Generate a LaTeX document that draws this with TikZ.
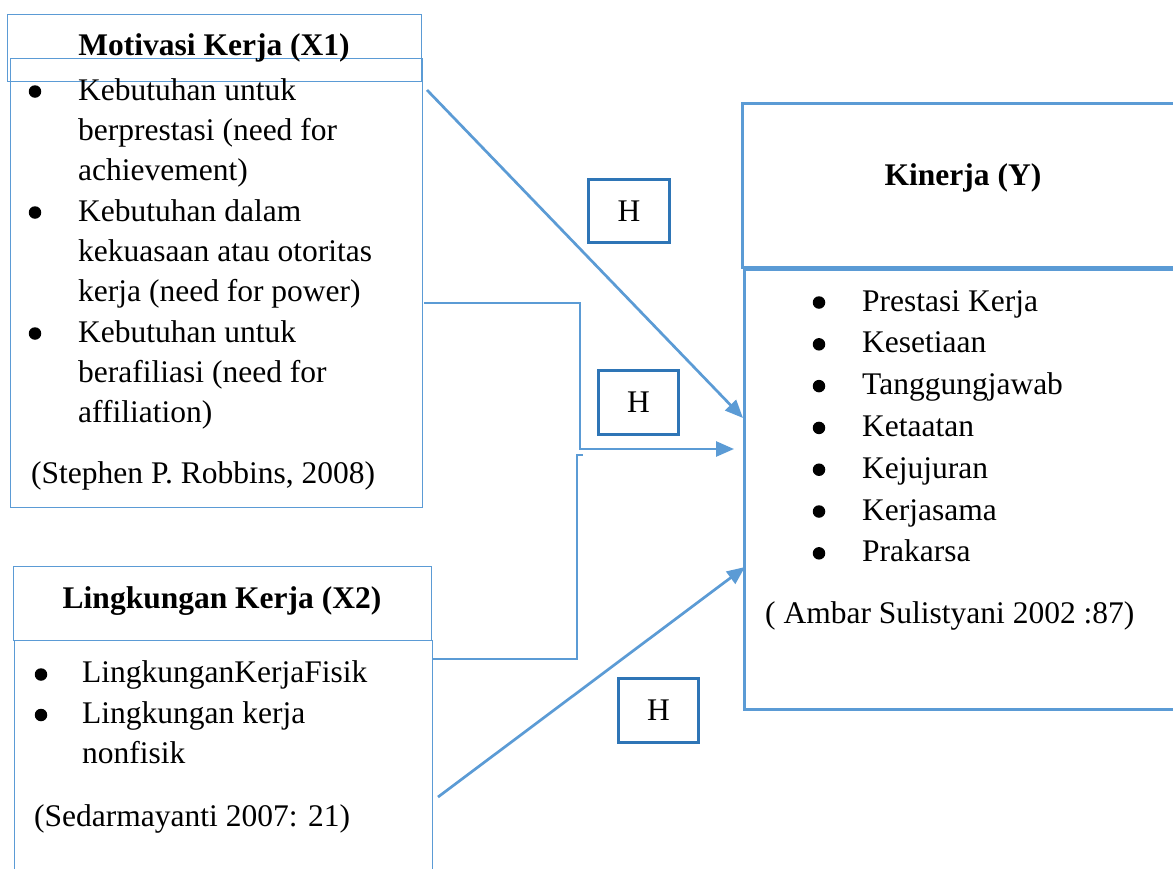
\documentclass[tikz,border=0pt]{standalone}
\usepackage{fontspec}
\setmainfont{Liberation Serif}
\usetikzlibrary{arrows.meta}
\definecolor{lnblue}{HTML}{5B9BD5}
\definecolor{hblue}{HTML}{2E75B6}
\tikzset{
  txt/.style={anchor=base west, inner sep=0pt, font=\fontsize{31.5}{40}\selectfont},
  blt/.style={circle, fill=black, inner sep=0pt, minimum size=12.5pt},
  boldtxt/.style={anchor=base, inner sep=0pt, font=\fontsize{31.5}{40}\selectfont\bfseries},
  frame/.style={draw=lnblue, line width=1.4pt, anchor=north west, inner sep=0pt},
  yframe/.style={draw=lnblue, line width=3pt, anchor=north west, inner sep=0pt},
  hbox/.style={draw=hblue, line width=2.8pt, anchor=north west, inner sep=0pt,
    font=\fontsize{31.5}{40}\selectfont},
  conn/.style={draw=lnblue, line width=2.7pt},
  thinconn/.style={draw=lnblue, line width=1.6pt},
  arr/.style={conn, -{Triangle[length=18pt,width=15pt]}},
}
\begin{document}
\begin{tikzpicture}[x=1pt,y=-1pt]
\clip (0,0) rectangle (1173,868);
\fill[white] (0,0) rectangle (1173,868);

% boxes
\node[frame, minimum width=414pt, minimum height=67pt] (x1head) at (7,14) {};
\node[frame, minimum width=412pt, minimum height=449pt] (x1body) at (10,58) {};
\node[frame, minimum width=418pt, minimum height=74pt] (x2head) at (13,566) {};
\node[frame, minimum width=418pt, minimum height=260pt] (x2body) at (14,640) {};
\node[yframe, minimum width=444pt, minimum height=164pt] (yhead) at (741,102) {};
\node[yframe, minimum width=442pt, minimum height=440pt] (ybody) at (743,268) {};

% H boxes
\node[hbox, minimum width=81pt, minimum height=63pt] (h1) at (587,178) {H};
\node[hbox, minimum width=80pt, minimum height=64pt] (h2) at (597,369) {H};
\node[hbox, minimum width=80pt, minimum height=64pt] (h3) at (617,677) {H};

% X1 texts
\node[boldtxt] (x1title) at (214,55) {Motivasi Kerja (X1)};
\node[blt] (x1b1) at (35,91.5) {};
\node[blt] (x1b2) at (35,212.5) {};
\node[blt] (x1b3) at (35,333.5) {};
\node[txt] (x1l1) at (78,100) {Kebutuhan untuk};
\node[txt] (x1l2) at (78,140.3) {berprestasi (need for};
\node[txt] (x1l3) at (78,180.6) {achievement)};
\node[txt] (x1l4) at (78,221) {Kebutuhan dalam};
\node[txt] (x1l5) at (78,261) {kekuasaan atau otoritas};
\node[txt] (x1l6) at (78,301.5) {kerja (need for power)};
\node[txt] (x1l7) at (78,342) {Kebutuhan untuk};
\node[txt] (x1l8) at (78,382) {berafiliasi (need for};
\node[txt] (x1l9) at (78,422.5) {affiliation)};
\node[txt] (x1cite) at (31,483) {(Stephen P. Robbins, 2008)};

% Y texts
\node[boldtxt] (ytitle) at (963,185) {Kinerja (Y)};
\foreach \t [count=\i] in {Prestasi Kerja,Kesetiaan,Tanggungjawab,Ketaatan,Kejujuran,Kerjasama,Prakarsa}{
  \node[blt] (yb\i) at (819,{302.5+41.8*(\i-1)}) {};
  \node[txt] (yl\i) at (862,{311+41.8*(\i-1)}) {\t};
}
\node[txt] (ycite) at (765,623) {( Ambar Sulistyani 2002 :87)};

% X2 texts
\node[boldtxt] (x2title) at (222,608) {Lingkungan Kerja (X2)};
\node[blt] (x2b1) at (41,674.5) {};
\node[blt] (x2b2) at (41,715) {};
\node[txt] (x2l1) at (82,682) {LingkunganKerjaFisik};
\node[txt] (x2l2) at (82,723) {Lingkungan kerja};
\node[txt] (x2l3) at (82,763) {nonfisik};
\node[txt] (x2cite) at (34,826) {(Sedarmayanti 2007: 21)};

% connectors
\coordinate (c1s) at (427,90);
\coordinate (c1e) at (743,418);
\draw[arr] (c1s) -- (c1e);

\coordinate (c2s) at (424,303);
\coordinate (c2m) at (580,449);
\coordinate (c2e) at (734,449);
\draw[arr] (c2s) -| (c2m) -- (c2e);

\coordinate (c3s) at (432,659);
\coordinate (c3m) at (577,455);
\coordinate (c3e) at (583,455);
\draw[thinconn] (c3s) -| (c3m) -- (c3e);

\coordinate (c4s) at (438,797);
\coordinate (c4e) at (745,567);
\draw[arr] (c4s) -- (c4e);
\end{tikzpicture}
\end{document}
